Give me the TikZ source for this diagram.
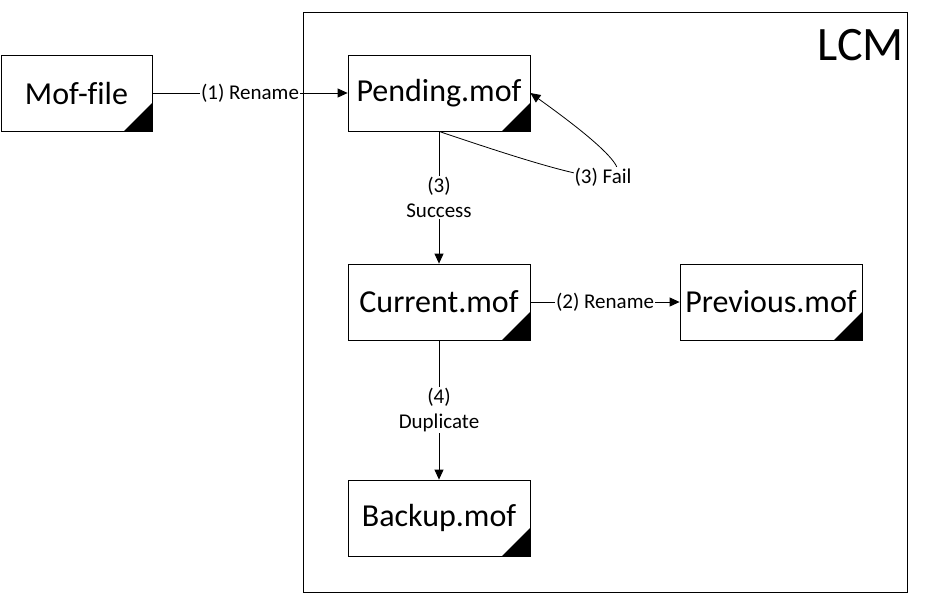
\documentclass[tikz,border=0pt]{standalone}
\usepackage{fontspec}
\setmainfont{Carlito}[Ligatures=NoCommon]
\usetikzlibrary{arrows.meta}

\begin{document}
\begin{tikzpicture}[x=1pt,y=-1pt,
  file/.style={draw,line width=0.8pt,minimum width=182pt,minimum height=76pt,inner sep=0pt,
    font=\fontsize{32}{36}\selectfont,
    path picture={\fill (path picture bounding box.south east) -- ++(-28pt,0pt) -- ++(28pt,28pt) -- cycle;}},
  lbl/.style={fill=white,inner sep=1pt,align=center,font=\fontsize{21}{25}\selectfont},
  arr/.style={line width=0.8pt,-{Triangle[length=10pt,width=9pt]}}]
\useasboundingbox (0,0) rectangle (929,594);
% LCM frame
\draw[line width=0.8pt] (303,12) rectangle (907,592);
\node[anchor=base east,inner sep=0pt,font=\fontsize{48}{48}\selectfont] (lcm) at (904,60) {LCM};
% files
\node[file,minimum width=151pt] (mof) at (76.5,93) {Mof-file};
\node[file] (pend) at (439,93) {Pending.mof};
\node[file] (cur) at (439,302) {Current.mof};
\node[file] (prev) at (771,302) {Previous.mof};
\node[file] (back) at (439,518) {Backup.mof};
% steps
\draw[arr] (mof) -- node[lbl]{(1) Rename} (pend);
\draw[arr] (pend) -- node[lbl]{(3)\\Success} (cur);
\draw[arr] (pend.south) .. controls (580,179) and (705,218) .. node[lbl]{(3) Fail} (pend.east);
\draw[arr] (cur) -- node[lbl]{(2) Rename} (prev);
\draw[arr] (cur) -- node[lbl]{(4)\\Duplicate} (back);
\end{tikzpicture}
\end{document}
